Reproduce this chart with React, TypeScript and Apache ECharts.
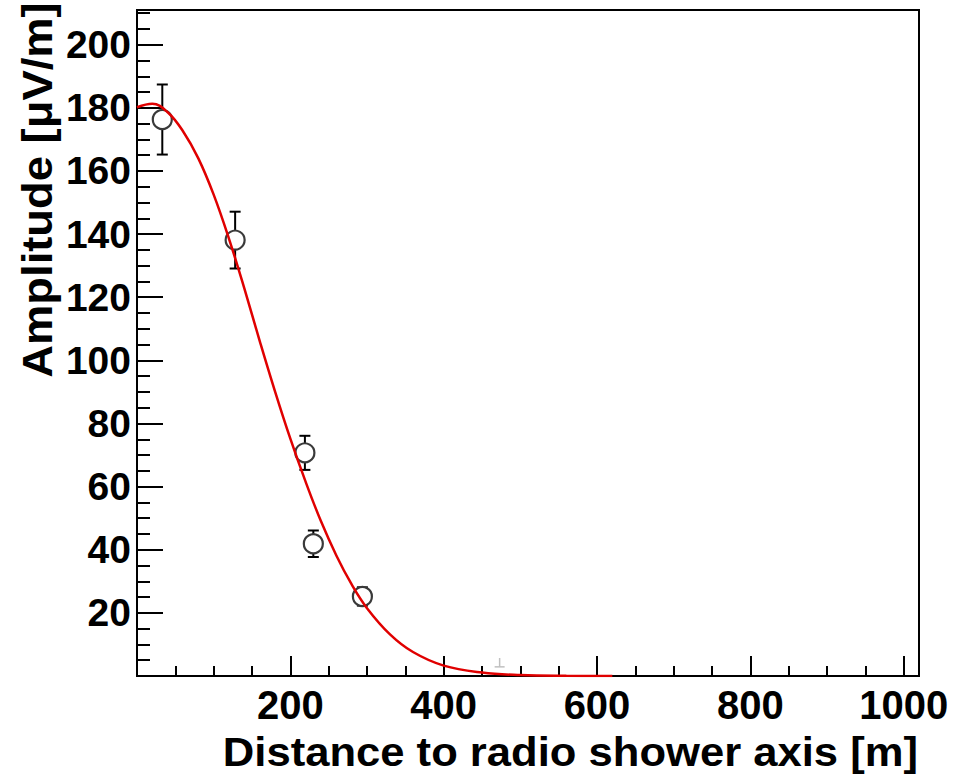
import React, { useEffect, useRef } from "react";
import * as echarts from "echarts";

// Measured points (distance [m], amplitude [µV/m], symmetric error)
const distances = [33, 128, 219, 230, 294];
const amplitudes = [176.3, 138.1, 70.7, 41.9, 25.2];
const errors = [11.1, 9.0, 5.4, 4.2, 2.9];

// Faint grey marker near the axis
const faintX = [473];
const faintLow = [2.9];
const faintHigh = [5.7];

// Fit curve
const fitX = [0, 20, 40, 60, 80, 100, 120, 140, 160, 180, 200, 220, 240, 260, 280, 300, 330, 360, 400, 450, 500, 560, 620];
const fitY = [180.2, 181.3, 178.6, 172.6, 164, 152.5, 138.5, 122.8, 106.2, 90.2, 75.2, 61.5, 49.0, 38.2, 29.0, 21.5, 13.2, 7.6, 3.3, 1.1, 0.3, 0.05, 0];

const xTickLabels = [200, 400, 600, 800, 1000];
const yTickLabels = [20, 40, 60, 80, 100, 120, 140, 160, 180, 200];

const xTitle = "Distance to radio shower axis [m]";
const yTitle = "Amplitude [\u03bcV/m]";

const FONT = "'Liberation Sans', Arial, Helvetica, sans-serif";

export default function App() {
  const ref = useRef<HTMLDivElement>(null);

  useEffect(() => {
    if (!ref.current) return;
    const chart = echarts.init(ref.current, undefined, { renderer: "svg" });

    const errData = distances.map((d, i) => [d, amplitudes[i] - errors[i], amplitudes[i] + errors[i]]);
    const faintData = faintX.map((d, i) => [d, faintLow[i], faintHigh[i]]);

    const makeErr = (color: string, width: number, capTop: boolean, capBottom: boolean, half: number) =>
      (params: any, api: any) => {
        const x = api.value(0);
        const lo = api.coord([x, api.value(1)]);
        const hi = api.coord([x, api.value(2)]);
        const style = { stroke: color, lineWidth: width };
        const children: any[] = [
          { type: "line", shape: { x1: lo[0], y1: lo[1], x2: hi[0], y2: hi[1] }, style },
        ];
        if (capBottom)
          children.push({ type: "line", shape: { x1: lo[0] - half, y1: lo[1], x2: lo[0] + half, y2: lo[1] }, style });
        if (capTop)
          children.push({ type: "line", shape: { x1: hi[0] - half, y1: hi[1], x2: hi[0] + half, y2: hi[1] }, style });
        return { type: "group", children };
      };

    const option: any = {
      animation: false,
      backgroundColor: "#fff",
      grid: {
        left: 137,
        top: 10,
        width: 782,
        height: 666,
        show: true,
        borderColor: "#000",
        borderWidth: 2,
        backgroundColor: "transparent",
      },
      xAxis: {
        type: "value",
        min: 0,
        max: 1020,
        interval: 200,
        axisLine: { show: true, onZero: false, lineStyle: { color: "#000", width: 2 } },
        axisTick: { show: true, inside: true, length: 20, lineStyle: { color: "#000", width: 2 } },
        minorTick: { show: true, splitNumber: 4, length: 10, lineStyle: { color: "#000", width: 2 } },
        splitLine: { show: false },
        minorSplitLine: { show: false },
        axisLabel: {
          show: true,
          margin: 9,
          color: "#000",
          fontSize: 40,
          fontWeight: "bold",
          fontFamily: FONT,
          showMinLabel: false,
          showMaxLabel: false,
          formatter: (v: number) => (xTickLabels.includes(v) ? String(v) : ""),
        },
      },
      yAxis: {
        type: "value",
        min: 0,
        max: 211,
        interval: 20,
        axisLine: { show: true, onZero: false, lineStyle: { color: "#000", width: 2 } },
        axisTick: { show: true, inside: true, length: 26, lineStyle: { color: "#000", width: 2 } },
        minorTick: { show: true, splitNumber: 4, length: 13, lineStyle: { color: "#000", width: 2 } },
        splitLine: { show: false },
        minorSplitLine: { show: false },
        axisLabel: {
          show: true,
          margin: 6,
          color: "#000",
          fontSize: 39,
          fontWeight: "bold",
          fontFamily: FONT,
          showMinLabel: false,
          showMaxLabel: false,
          formatter: (v: number) => (yTickLabels.includes(v) ? String(v) : ""),
        },
      },
      graphic: [
        {
          type: "text",
          x: 37,
          y: 190,
          rotation: Math.PI / 2,
          scaleX: 1.08,
          style: {
            text: yTitle,
            fontSize: 42,
            fontWeight: "bold",
            fontFamily: FONT,
            fill: "#000",
            align: "center",
            verticalAlign: "middle",
          },
        },
        {
          type: "text",
          x: 918,
          y: 752,
          scaleX: 1.09,
          style: {
            text: xTitle,
            fontSize: 40,
            fontWeight: "bold",
            fontFamily: FONT,
            fill: "#000",
            align: "right",
            verticalAlign: "middle",
          },
        },
      ],
      series: [
        {
          type: "custom",
          name: "faint",
          renderItem: makeErr("#c0c0c0", 1.5, false, true, 5),
          data: faintData,
          encode: { x: 0, y: [1, 2] },
          z: 2,
        },
        {
          type: "custom",
          name: "errors",
          renderItem: makeErr("#000", 2, true, true, 5.5),
          data: errData,
          encode: { x: 0, y: [1, 2] },
          z: 2,
        },
        {
          type: "scatter",
          name: "data",
          data: distances.map((d, i) => [d, amplitudes[i]]),
          symbol: "circle",
          symbolSize: 19,
          itemStyle: { color: "#fff", borderColor: "#3a3a3a", borderWidth: 2.2, opacity: 1 },
          z: 3,
        },
        {
          type: "line",
          name: "fit",
          data: fitX.map((x, i) => [x, fitY[i]]),
          smooth: 0.4,
          showSymbol: false,
          symbol: "none",
          lineStyle: { color: "#e00000", width: 2.5 },
          clip: true,
          z: 4,
        },
      ],
    };

    chart.setOption(option);
    return () => chart.dispose();
  }, []);

  return (
    <div
      ref={ref}
      style={{ position: "absolute", left: 0, top: 0, width: 953, height: 776 }}
    />
  );
}
